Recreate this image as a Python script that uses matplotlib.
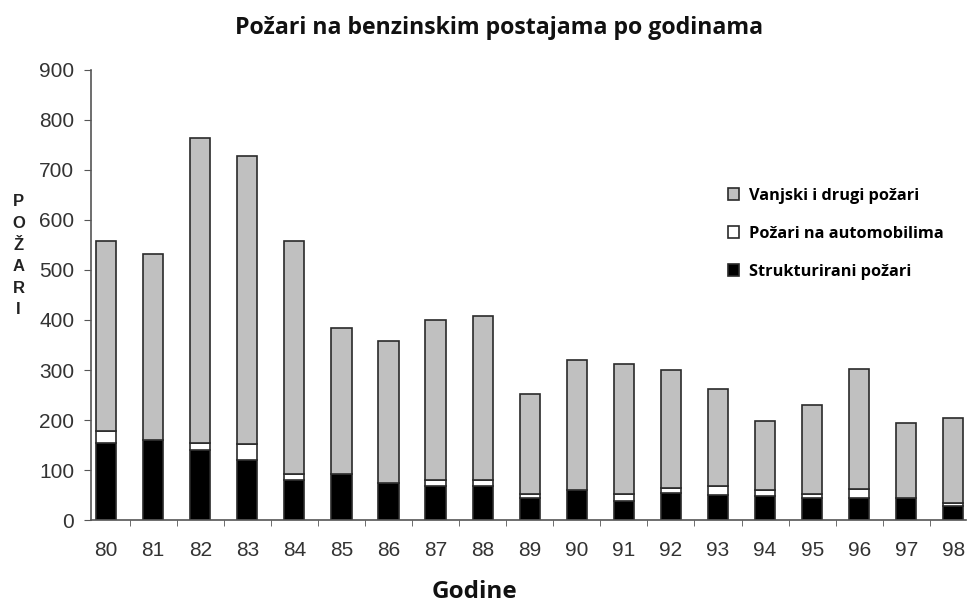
import numpy as np
import matplotlib.pyplot as plt

# godine i vrijednosti (procjena s grafa)
godine = ["80", "81", "82", "83", "84", "85", "86", "87", "88", "89",
          "90", "91", "92", "93", "94", "95", "96", "97", "98"]
ukupno = [557, 531, 763, 728, 557, 385, 358, 400, 408, 253,
          320, 313, 301, 262, 199, 230, 303, 195, 205]
strukturirani = [155, 160, 140, 121, 80, 93, 74, 68, 68, 45,
                 61, 38, 55, 51, 48, 45, 45, 45, 28]
automobili = [24, 0, 15, 32, 12, 0, 0, 12, 12, 8,
              0, 14, 10, 17, 12, 7, 17, 0, 7]

strukturirani = np.array(strukturirani)
automobili = np.array(automobili)
vanjski = np.array(ukupno) - strukturirani - automobili

fig = plt.figure(figsize=(9.68, 6.02), dpi=100)
ax = fig.add_axes([0.094, 0.136, 0.904, 0.748])

x = np.arange(len(godine))
w = 0.43
ec = "#2a2a2a"
ax.bar(x, strukturirani, w, color="black", edgecolor=ec, linewidth=1.2,
       label="Strukturirani požari")
ax.bar(x, automobili, w, bottom=strukturirani, color="white", edgecolor=ec,
       linewidth=1.2, label="Požari na automobilima")
ax.bar(x, vanjski, w, bottom=strukturirani + automobili, color="#c0c0c0",
       edgecolor=ec, linewidth=1.2, label="Vanjski i drugi požari")

ax.set_xlim(-0.32, 18.27)
ax.set_ylim(0, 900)
ax.set_yticks(range(0, 901, 100))
ax.set_xticks(x)
ax.set_xticklabels(godine)
ax.set_xticks(x[:-1] + 0.5, minor=True)
ax.tick_params(axis="x", which="major", length=0, pad=15, labelsize=15,
               labelcolor="#333333")
ax.tick_params(axis="x", which="minor", length=4, direction="out", color="#555555")
ax.tick_params(axis="y", length=5, direction="out", pad=7, labelsize=15,
               labelcolor="#333333", color="#555555")
for lab in ax.get_xticklabels() + ax.get_yticklabels():
    lab.set_family("Liberation Sans")

for s in ["top", "right"]:
    ax.spines[s].set_visible(False)
for s in ["left", "bottom"]:
    ax.spines[s].set_color("#555555")
    ax.spines[s].set_linewidth(1.2)

fig.text(0.516, 0.953, "Požari na benzinskim postajama po godinama",
         ha="center", va="center", fontsize=16.7, fontweight="bold",
         family="Open Sans", color="#111111")
fig.text(0.49, 0.017, "Godine", ha="center", va="center", fontsize=17.5,
         fontweight="bold", family="Open Sans", color="#111111")
fig.text(0.019, 0.575, "P\nO\nŽ\nA\nR\nI", ha="center", va="center",
         fontsize=12, fontweight="bold", family="Liberation Sans",
         color="#222222", linespacing=1.55)

h, l = ax.get_legend_handles_labels()
leg = ax.legend(h[::-1], l[::-1], loc="upper left", bbox_to_anchor=(0.711, 0.771),
                frameon=False, handlelength=0.7, handleheight=0.7,
                handletextpad=0.6, labelspacing=1.35,
                prop={"family": "Open Sans", "weight": "bold", "size": 11.8})

plt.savefig("out.png", dpi=100)
